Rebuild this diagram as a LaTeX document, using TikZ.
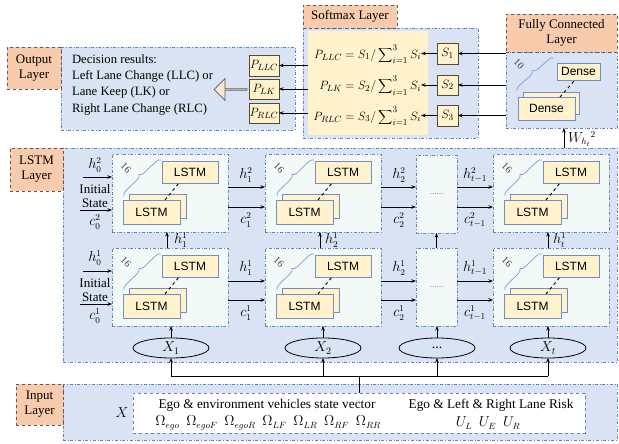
\documentclass[tikz,border=0pt]{standalone}
\usepackage{fontspec}
\setmainfont{Liberation Serif}
\setsansfont{Liberation Sans}
\usetikzlibrary{arrows.meta,shapes.geometric,shapes.arrows,decorations.pathreplacing,calc}
\definecolor{salmon}{RGB}{248,203,173}
\definecolor{lblborder}{RGB}{90,90,90}
\definecolor{panelfill}{RGB}{218,227,243}
\definecolor{panelborder}{RGB}{91,134,197}
\definecolor{cellfill}{RGB}{243,249,247}
\definecolor{yfill}{RGB}{255,242,204}
\definecolor{lstmborder}{RGB}{113,143,196}
\definecolor{darkborder}{RGB}{85,75,50}
\definecolor{pinkfill}{RGB}{251,229,214}
\definecolor{bracec}{RGB}{120,160,215}
\definecolor{numc}{RGB}{60,60,80}
\newcommand\mybox[6]{\node[#1,anchor=north west,minimum width={(#4)-(#2)},minimum height={(#5)-(#3)}] (#6) at (#2,#3)}
\newcommand\mkcell[3]{%
\begin{scope}[shift={(#2,#3)}]
 \node[cellbox, minimum width=116, minimum height=78] (#1) at (0,0) {};
 \node[ybox, minimum width=56, minimum height=22] (#1a) at (50,7) {LSTM};
 \node[ybox, minimum width=57, minimum height=24] (#1b) at (17,40) {};
 \node[ybox, minimum width=57, minimum height=24] (#1c) at (11,46) {LSTM};
 \draw[dashed, line width=0.9pt] ($(#1c.north west)+(42,0)$) -- ($(#1a.south west)+(17,0)$);
 \draw[bracec, line width=0.7pt, decorate, decoration={brace,amplitude=5pt}] (12,42) -- (49,6);
 \node[rotate=-45, text=numc, font=\fontsize{10}{10}\selectfont] (#1n) at (14,14) {16};
\end{scope}}
\begin{document}
\begin{tikzpicture}[x=1pt,y=-1pt,
 every node/.style={inner sep=0pt, outer sep=0pt},
 lbl/.style={draw=lblborder, dashed, line width=0.8pt, fill=salmon, font=\fontsize{13}{15}\selectfont, align=center},
 panel/.style={draw=panelborder, dash dot, line width=0.6pt, fill=panelfill},
 cellbox/.style={draw=panelborder, dash dot, line width=0.5pt, fill=cellfill, anchor=north west},
 ybox/.style={draw=lstmborder, line width=0.8pt, fill=yfill, font=\sffamily\fontsize{12}{12}\selectfont, anchor=north west},
 pbox/.style={draw=darkborder, line width=0.8pt, fill=yfill, font=\fontsize{13}{13}\selectfont},
 arr/.style={-{Stealth[length=4.5pt,width=3.5pt]}, line width=0.8pt},
 txt/.style={font=\fontsize{13}{15}\selectfont},
 mth/.style={font=\fontsize{13.5}{14}\selectfont},
 fml/.style={font=\fontsize{13}{14}\selectfont},
 ell/.style={ellipse, draw, line width=0.8pt, fill=panelfill, minimum width=76, minimum height=20, font=\fontsize{14}{14}\selectfont}]
\useasboundingbox (0,0) rectangle (619,444);

% ---------- Output layer ----------
\mybox{panel}{61}{47}{295}{130}{outp}{};
\mybox{lbl}{7}{47}{61}{89}{outl}{Output\\Layer};
\node[anchor=north west, align=left, font=\fontsize{12.7}{16.3}\selectfont] (dec) at (72,54.5)
 {Decision results:\\Left Lane Change (LLC) or\\Lane Keep (LK) or\\Right Lane Change (RLC)};
\mybox{pbox}{249}{55}{279}{76}{pllc}{$P_{LLC}$};
\mybox{pbox}{249}{79}{279}{99}{plk}{$P_{LK}$};
\mybox{pbox}{249}{103}{279}{123}{prlc}{$P_{RLC}$};
\node[single arrow, draw=lblborder, fill=pinkfill, line width=0.8pt, shape border rotate=180,
 minimum height=33, minimum width=22, single arrow head extend=5pt] (bigarr) at (231,89.5) {};

% ---------- Softmax layer ----------
\mybox{panel}{303}{28}{478}{138}{smp}{};
\mybox{lbl}{303}{5}{397}{28}{sml}{Softmax Layer};
\mybox{fill=yfill}{308}{31}{428}{135}{yel}{};
\mybox{pbox}{437}{43}{458}{64}{s1}{$S_1$};
\mybox{pbox}{437}{75}{458}{95}{s2}{$S_2$};
\mybox{pbox}{437}{105}{458}{126}{s3}{$S_3$};
\node[fml, anchor=east] (f1) at (421,54) {$\displaystyle P_{LLC}=S_1/\sum\nolimits_{i=1}^{3}S_i$};
\node[fml, anchor=east] (f2) at (421,85.5) {$\displaystyle P_{LK}=S_2/\sum\nolimits_{i=1}^{3}S_i$};
\node[fml, anchor=east] (f3) at (421,116) {$\displaystyle P_{RLC}=S_3/\sum\nolimits_{i=1}^{3}S_i$};
\draw[arr] (s1.west) -- (f1.east |- s1.west);
\draw[arr] (s2.west) -- (f2.east |- s2.west);
\draw[arr] (s3.west) -- (f3.east |- s3.west);
\draw[arr] (yel.west |- pllc.east) -- (pllc.east);
\draw[arr] (yel.west |- plk.east) -- (plk.east);
\draw[arr] (yel.west |- prlc.east) -- (prlc.east);

% ---------- Fully connected layer ----------
\mybox{panel}{506}{52}{617}{128}{fcp}{};
\mybox{lbl}{506}{14}{617}{52}{fcl}{Fully Connected\\Layer};
\mybox{ybox}{557}{63}{600}{80}{da}{Dense};
\mybox{ybox}{523}{92}{579}{114}{db}{};
\mybox{ybox}{518}{97}{575}{120}{dc}{Dense};
\draw[dashed, line width=0.9pt] ($(dc.north west)+(42,0)$) -- ($(da.south west)+(18,0)$);
\draw[bracec, line width=0.7pt, decorate, decoration={brace,amplitude=5pt}] (517,91) -- (554,58);
\node[rotate=-45, text=numc, font=\fontsize{10}{10}\selectfont] (dn) at (519,64) {10};
\draw[arr] (fcp.west |- s1.east) -- (s1.east);
\draw[arr] (fcp.west |- s2.east) -- (s2.east);
\draw[arr] (fcp.west |- s3.east) -- (s3.east);

% ---------- LSTM layer ----------
\mybox{panel}{63}{148}{617}{362}{lsp}{};
\mybox{lbl}{10}{148}{63}{191}{lsl}{LSTM\\Layer};
\coordinate (wb) at (564,148);
\draw[arr] (wb) -- (wb |- fcp.south);
\node[mth, anchor=west] (wl) at (568,139) {$W_{h_t}{}^{2}$};

\mkcell{c1t}{112}{154}
\mkcell{c1b}{112}{248}
\mkcell{c2t}{265}{154}
\mkcell{c2b}{265}{248}
\mkcell{ctt}{493}{154}
\mkcell{ctb}{493}{248}
\mybox{cellbox}{416}{155}{457}{233}{cdt}{};
\mybox{cellbox}{416}{248}{457}{326}{cdb}{};
\node[text=gray, font=\fontsize{9}{9}\selectfont] (dt) at (cdt.center) {......};
\node[text=gray, font=\fontsize{9}{9}\selectfont] (db2) at (cdb.center) {......};

% initial states
\coordinate (h2s) at (83,177);
\coordinate (c2s) at (80,210);
\coordinate (h1s) at (83,271);
\coordinate (c1s) at (80,304);
\draw[arr] (h2s) -- (h2s -| c1t.west);
\draw[arr] (c2s) -- (c2s -| c1t.west);
\draw[arr] (h1s) -- (h1s -| c1b.west);
\draw[arr] (c1s) -- (c1s -| c1b.west);
\node[mth] (h02) at (95,165) {$h_0^2$};
\node[txt] (in2) at (95,189.5) {Initial};
\node[txt] (st2) at (95,203) {State};
\node[mth] (c02) at (95,222) {$c_0^2$};
\node[mth] (h01) at (95,258) {$h_0^1$};
\node[txt] (in1) at (95,283.5) {Initial};
\node[txt] (st1) at (95,297) {State};
\node[mth] (c01) at (95,316) {$c_0^1$};

% horizontal connectors, top row
\draw[arr] ($(c1t.north east)+(0,33)$) -- ($(c2t.north west)+(0,33)$);
\draw[arr] ($(c1t.north east)+(0,53)$) -- ($(c2t.north west)+(0,53)$);
\draw[arr] ($(c2t.north east)+(0,33)$) -- ($(cdt.north west)+(0,32)$);
\draw[arr] ($(c2t.north east)+(0,53)$) -- ($(cdt.north west)+(0,52)$);
\draw[arr] ($(cdt.north east)+(0,32)$) -- ($(ctt.north west)+(0,33)$);
\draw[arr] ($(cdt.north east)+(0,52)$) -- ($(ctt.north west)+(0,53)$);
\node[mth] (l1) at (246,175) {$h_1^2$};
\node[mth] (l2) at (246,220) {$c_1^2$};
\node[mth] (l3) at (399,175) {$h_2^2$};
\node[mth] (l4) at (399,220) {$c_2^2$};
\node[mth] (l5) at (475,175) {$h_{t-1}^2$};
\node[mth] (l6) at (475,220) {$c_{t-1}^2$};
% bottom row
\draw[arr] ($(c1b.north east)+(0,33)$) -- ($(c2b.north west)+(0,33)$);
\draw[arr] ($(c1b.north east)+(0,52)$) -- ($(c2b.north west)+(0,52)$);
\draw[arr] ($(c2b.north east)+(0,33)$) -- ($(cdb.north west)+(0,33)$);
\draw[arr] ($(c2b.north east)+(0,52)$) -- ($(cdb.north west)+(0,52)$);
\draw[arr] ($(cdb.north east)+(0,33)$) -- ($(ctb.north west)+(0,33)$);
\draw[arr] ($(cdb.north east)+(0,52)$) -- ($(ctb.north west)+(0,52)$);
\node[mth] (m1) at (246,268) {$h_1^1$};
\node[mth] (m2) at (246,313) {$c_1^1$};
\node[mth] (m3) at (399,268) {$h_2^1$};
\node[mth] (m4) at (399,313) {$c_2^1$};
\node[mth] (m5) at (475,268) {$h_{t-1}^1$};
\node[mth] (m6) at (475,313) {$c_{t-1}^1$};
% vertical between rows
\draw[arr] ($(c1b.north)+(-3,0)$) -- ($(c1t.south)+(-3,0)$);
\draw[arr] ($(c2b.north)+(-3,0)$) -- ($(c2t.south)+(-3,0)$);
\draw[arr] (cdb.north) -- (cdt.south);
\draw[arr] ($(ctb.north)+(-3,0)$) -- ($(ctt.south)+(-3,0)$);
\node[mth, anchor=west] (v1) at (174,240) {$h_1^1$};
\node[mth, anchor=west] (v2) at (325,240) {$h_2^1$};
\node[mth, anchor=west] (v3) at (553,240) {$h_t^1$};

% ellipses
\node[ell] (x1) at (171,348) {$X_1$};
\node[ell] (x2) at (323,348) {$X_2$};
\node[ell] (x3) at (437,348) {...};
\node[ell] (x4) at (548,348) {$X_t$};
\draw[arr] (x1.north) -- (x1.north |- c1b.south);
\draw[arr] (x2.north) -- (x2.north |- c2b.south);
\draw[arr] (x3.north) -- (x3.north |- cdb.south);
\draw[arr] (x4.north) -- (x4.north |- ctb.south);

% ---------- Input layer ----------
\mybox{panel}{63}{384}{617}{440}{inp}{};
\mybox{lbl}{16}{384}{63}{425}{inl}{Input\\Layer};
\mybox{draw=panelborder, dashed, line width=0.6pt, fill=white}{133}{393}{585}{433}{inbox}{};
\node[mth] (xl) at (122,413) {$X$};
\node[font=\fontsize{13.3}{15}\selectfont] (t1) at (267,405) {Ego \& environment vehicles state vector};
\node[mth] (t2) at (268,423) {$\Omega_{ego}\ \ \Omega_{egoF}\ \ \Omega_{egoR}\ \ \Omega_{LF}\ \ \Omega_{LR}\ \ \Omega_{RF}\ \ \Omega_{RR}$};
\node[font=\fontsize{13.3}{15}\selectfont] (t3) at (491,405) {Ego \& Left \& Right Lane Risk};
\node[mth] (t4) at (488,423) {$U_L\ \ U_E\ \ U_R$};
\coordinate (tj) at (359,376);
\draw[line width=0.8pt] (inbox.north) -- (tj);
\draw[line width=0.8pt] (x1.south |- tj) -- (x4.south |- tj);
\draw[arr] (x1.south |- tj) -- (x1.south);
\draw[arr] (x2.south |- tj) -- (x2.south);
\draw[arr] (x3.south |- tj) -- (x3.south);
\draw[arr] (x4.south |- tj) -- (x4.south);
\end{tikzpicture}
\end{document}
